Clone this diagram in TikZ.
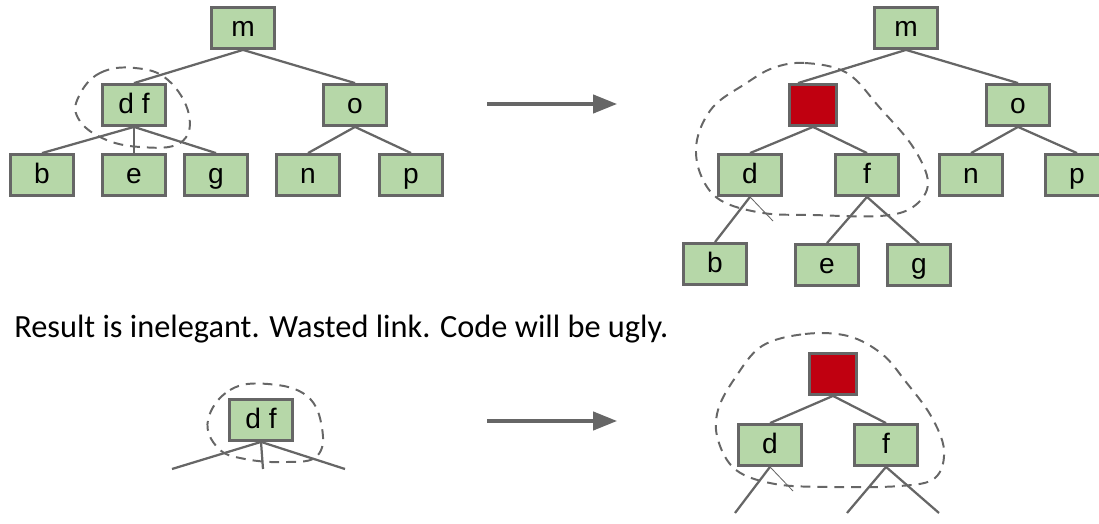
\documentclass[tikz,border=0pt]{standalone}
\usepackage{fontspec}
\setmainfont{Carlito}
\newfontfamily\nodefont{Liberation Sans}
\usetikzlibrary{arrows.meta,positioning,calc}
\definecolor{leafgreen}{RGB}{182,215,168}
\definecolor{edgegray}{RGB}{102,102,102}
\definecolor{splitred}{RGB}{192,0,16}

\tikzset{
  keybox/.style={draw=edgegray, line width=2pt, fill=leafgreen, minimum width=1.575cm,
    minimum height=1.025cm, inner sep=0pt, text height=14pt, text depth=2pt,
    font=\nodefont\fontsize{20}{20}\selectfont},
  redbox/.style={draw=edgegray, line width=2pt, fill=splitred, minimum width=1.175cm,
    minimum height=1.025cm, inner sep=0pt},
  link/.style={draw=edgegray, line width=1.6pt},
  blob/.style={draw=edgegray, line width=1.4pt, dash pattern=on 7pt off 5pt},
  bigarrow/.style={draw=edgegray, line width=2.4pt, -{Triangle[length=17pt,width=13pt]}}
}

\begin{document}
\begin{tikzpicture}[x=0.025cm, y=-0.025cm]
    \useasboundingbox (0,0) rectangle (1099,524);

    % Left tree before the split
    \node[keybox] (m1) at (243,28) {m};
    \node[keybox] (df1) at (134,105) {d f};
    \node[keybox] (o1) at (355,105) {o};
    \node[keybox] (b1) at (42,175) {b};
    \node[keybox] (e1) at (134,175) {e};
    \node[keybox] (g1) at (216,175) {g};
    \node[keybox] (n1) at (308,175) {n};
    \node[keybox] (p1) at (411,175) {p};
    \draw[link] (m1.south) -- (df1.north);
    \draw[link] (m1.south) -- (o1.north);
    \draw[link] (df1.south) -- (b1.north);
    \draw[link] (df1.south) -- (e1.north);
    \draw[link] (df1.south) -- (g1.north);
    \draw[link] (o1.south) -- (n1.north);
    \draw[link] (o1.south) -- (p1.north);
    \draw[blob] plot[smooth cycle, tension=0.7] coordinates {(79,96) (100,73) (135,68) (168,80) (189,115) (180,143) (140,147) (102,138) (78,118)};

    \coordinate (a1s) at (487,104);
    \coordinate (a1e) at (617,104);
    \draw[bigarrow] (a1s) -- (a1e);

    % Right tree after the split
    \node[keybox] (m2) at (906,28) {m};
    \node[redbox] (r2) at (813,105) {};
    \node[keybox] (o2) at (1018,105) {o};
    \node[keybox] (d2) at (750,175) {d};
    \node[keybox] (f2) at (867,175) {f};
    \node[keybox] (n2) at (971,175) {n};
    \node[keybox] (p2) at (1077,175) {p};
    \node[keybox] (b2) at (715,264) {b};
    \node[keybox] (e2) at (827,265) {e};
    \node[keybox] (g2) at (919,265) {g};
    \coordinate (stub2) at (773,221);
    \draw[link] (m2.south) -- ([xshift=-15*0.025cm]r2.north);
    \draw[link] (m2.south) -- (o2.north);
    \draw[link] (r2.south) -- (d2.north);
    \draw[link] (r2.south) -- (f2.north);
    \draw[link] (o2.south) -- (n2.north);
    \draw[link] (o2.south) -- (p2.north);
    \draw[link] (d2.south) -- (b2.north);
    \draw[edgegray, line width=0.6pt] (d2.south) -- (stub2);
    \draw[link] (f2.south) -- (e2.north);
    \draw[link] (f2.south) -- (g2.north);
    \draw[blob] plot[smooth cycle, tension=0.6] coordinates {(773,68) (805,63) (847,73) (880,108) (913,147) (928,183) (913,207) (880,216) (813,215) (763,213) (720,200) (700,173) (697,140) (713,107) (745,84)};

    % Caption
    \node[anchor=west, font=\fontsize{23}{23}\selectfont, inner sep=0pt] (cap) at (14,329) {Result is inelegant. Wasted link. Code will be ugly.};

    % Bottom left: node alone
    \node[keybox] (df3) at (261,420) {d f};
    \coordinate (l3) at (172,469);
    \coordinate (c3) at (263,469);
    \coordinate (r3) at (345,469);
    \draw[link] (df3.south) -- (l3);
    \draw[link] (df3.south) -- (c3);
    \draw[link] (df3.south) -- (r3);
    \draw[blob] plot[smooth cycle, tension=0.7] coordinates {(208,420) (230,390) (268,384) (307,396) (322,428) (317,456) (287,462) (245,459) (218,448)};

    \coordinate (a2s) at (487,421);
    \coordinate (a2e) at (617,421);
    \draw[bigarrow] (a2s) -- (a2e);

    % Bottom right: node after the split
    \node[redbox] (r4) at (833,374) {};
    \node[keybox] (d4) at (770,445) {d};
    \node[keybox] (f4) at (886,445) {f};
    \coordinate (bl4) at (735,513);
    \coordinate (stub4) at (793,491);
    \coordinate (el4) at (847,513);
    \coordinate (gl4) at (939,513);
    \draw[link] (r4.south) -- (d4.north);
    \draw[link] (r4.south) -- (f4.north);
    \draw[link] (d4.south) -- (bl4);
    \draw[edgegray, line width=0.6pt] (d4.south) -- (stub4);
    \draw[link] (f4.south) -- (el4);
    \draw[link] (f4.south) -- (gl4);
    \draw[blob] plot[smooth cycle, tension=0.6] coordinates {(762,346) (805,334) (848,336) (882,354) (906,382) (931,416) (944,450) (935,478) (900,486) (830,487) (775,484) (736,470) (718,440) (718,410) (735,378)};
\end{tikzpicture}
\end{document}
